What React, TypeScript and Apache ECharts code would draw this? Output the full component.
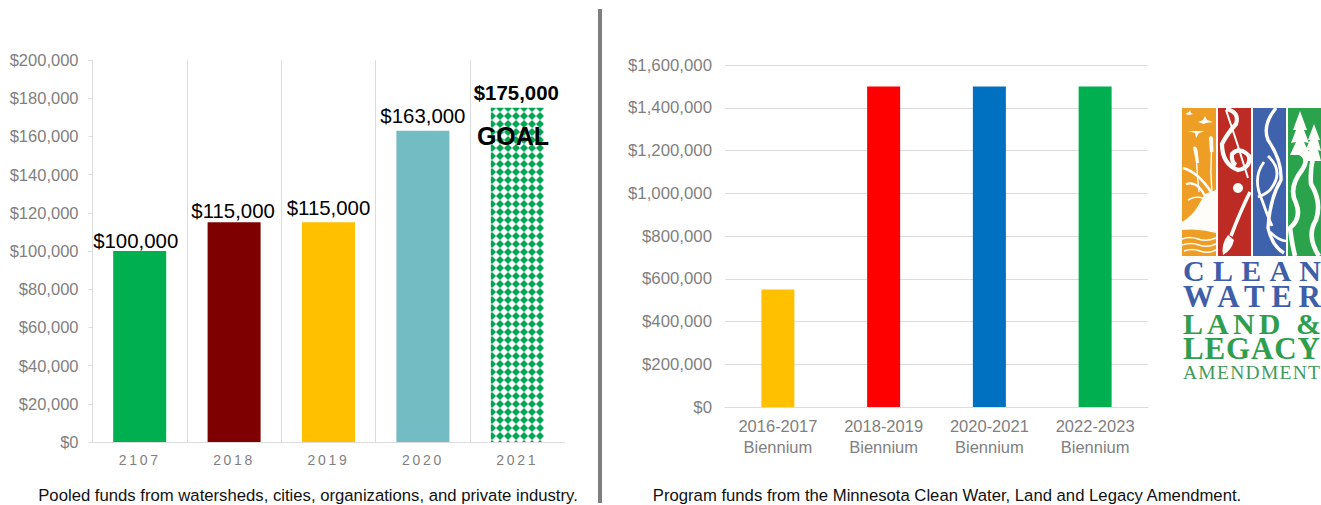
import React, { useEffect, useRef } from "react";
import * as echarts from "echarts";

// Pooled funds, by year
const pooledYears = ["2107", "2018", "2019", "2020", "2021"];
const pooledValues = [100000, 115000, 115000, 163000, 175000];
const pooledColors = ["#00b050", "#7f0000", "#ffc000", "#74bcc4"];
const pooledLabelOffsets = [[-4, 1], [-1, 0], [0, -3], [0, -4], [-1, -4]];
const goalColor = "#00a651";

// Program funds, by biennium
const bienniumYears = ["2016-2017", "2018-2019", "2020-2021", "2022-2023"];
const bienniumValues = [550000, 1500000, 1500000, 1500000];
const bienniumColors = ["#ffc000", "#ff0000", "#0070c0", "#00b050"];

const pooledCaption = "Pooled funds from watersheds, cities, organizations, and private industry.";
const programCaption = "Program funds from the Minnesota Clean Water, Land and Legacy Amendment.";
const goalText = "GOAL";

const logoWords = [
  { text: "CLEAN", y: 270.5, size: 30, weight: "bold", fill: "#3f5ea8", width: 138 },
  { text: "WATER", y: 296.5, size: 31, weight: "bold", fill: "#3f5ea8", width: 138 },
  { text: "LAND &", y: 323, size: 30, weight: "bold", fill: "#2f9e4f", width: 138 },
  { text: "LEGACY", y: 348, size: 31, weight: "bold", fill: "#2f9e4f", width: 137 },
  { text: "AMENDMENT", y: 372, size: 19.5, weight: "normal", fill: "#3f9a5b", width: 137 },
];

const logoPanels = [
  { x: 1182, width: 34, fill: "#ee9d25" },
  { x: 1218, width: 33, fill: "#bd2b25" },
  { x: 1253, width: 33, fill: "#3f62ac" },
  { x: 1288, width: 33, fill: "#2ba24c" },
];

// White artwork inside the four logo panels, in page pixels.
const logoFills = [
  "M1185 114 L1189 112 L1190 110 L1191 113 L1193 114 L1189 115 Z",
  "M1198 122 L1203 120 L1205 116 L1207 120 L1213 122 L1206 123 L1204 124 Z",
  "M1188 131 L1205 131 L1199 133 L1196 138 L1195 133 Z",
  "M1193 147 Q1196 145 1197.5 150 L1199 163 L1196 163 Z",
  "M1209 138 Q1211 134 1213 138 L1213.5 152 L1210 152 Z",
  "M1182 230 L1182 222 Q1192 216 1198 206 L1205 194 L1216 190 L1216 233 Q1199 228 1182 230 Z",
  "M1223 255 Q1221 244 1228 235 L1234 240 Q1232 250 1223 255 Z",
  "M1293 130 L1300 111 L1307 130 L1304 130 L1309 143 L1304 142 L1310 155 L1290 155 L1296 142 L1291 143 L1296 130 Z",
  "M1308 140 L1314 124 L1320 140 L1318 140 L1321 151 L1318 150 L1321 161 L1303 161 L1309 150 L1305 151 L1310 140 Z",
];
const logoStrokes = [
  { d: "M1196.5 160 Q1197 175 1199 192", width: 1.4 },
  { d: "M1211.5 150 Q1210 172 1212 194", width: 1.4 },
  { d: "M1183 168 Q1198 172 1211 192", width: 2.6 },
  { d: "M1186 184 Q1198 180 1206 198", width: 2.2 },
  { d: "M1188 200 Q1198 194 1206 200", width: 1.6 },
  { d: "M1182 239 Q1190 236 1198 239 T1216 238", width: 1.6 },
  { d: "M1182 245 Q1191 242 1199 245 T1216 244", width: 1.6 },
  { d: "M1184 251 Q1192 248 1200 251 T1216 250", width: 1.4 },
  { d: "M1226 109 Q1240 112 1236 124 Q1227 134 1222 144 Q1222 164 1238 170 Q1251 168 1249 156 Q1240 146 1232 154 Q1231 162 1236 165", width: 4.2 },
  { d: "M1226 110 Q1238 145 1248 178", width: 2 },
  { d: "M1250 192 Q1240 212 1231 236", width: 3.6 },
  { d: "M1276 108 Q1262 125 1268 140 Q1282 160 1281 180 Q1270 198 1268 228 Q1272 246 1284 253", width: 3.4 },
  { d: "M1264 162 Q1252 178 1262 200 Q1266 212 1272 226", width: 2.8 },
  { d: "M1268 156 Q1285 172 1270 190 Q1266 194 1258 197", width: 2.8 },
  { d: "M1270 232 Q1279 241 1286 241", width: 2.6 },
  { d: "M1300 153 Q1310 158 1302 170 Q1288 188 1296 203 Q1302 218 1290 228 Q1292 244 1295 256", width: 4.6 },
  { d: "M1313 158 Q1310 170 1311 184 Q1322 202 1316 220 Q1306 236 1319 256", width: 4.6 },
];

const WHITE_SHAPES = logoFills.map((d, i) => {
  const name = `logoFill${i}`;
  echarts.graphic.registerShape(name, echarts.graphic.extendPath(d, {}));
  return name;
});
const LINE_SHAPES = logoStrokes.map((s, i) => {
  const name = `logoLine${i}`;
  echarts.graphic.registerShape(name, echarts.graphic.extendPath(s.d, {}));
  return name;
});

const SANS = "'Liberation Sans', Arial, sans-serif";
const SERIF = "'Liberation Serif', 'Times New Roman', serif";
const GREY = "#7f7f7f";
const RULE = "#dcdcdc";
const ART = "#fffdf9";

const money = (v: number) => "$" + v.toLocaleString("en-US");

// Green diamonds on white, tiled over the goal bar.
function diamondTile() {
  const size = 8;
  const c = document.createElement("canvas");
  c.width = size;
  c.height = size;
  const g = c.getContext("2d")!;
  g.fillStyle = "#ffffff";
  g.fillRect(0, 0, size, size);
  g.fillStyle = goalColor;
  g.beginPath();
  g.moveTo(4, 0);
  g.lineTo(8, 4);
  g.lineTo(4, 8);
  g.lineTo(0, 4);
  g.closePath();
  g.fill();
  return c;
}

export default function App() {
  const ref = useRef<HTMLDivElement>(null);

  useEffect(() => {
    document.body.style.margin = "0";
    const chart = echarts.init(ref.current!, null, { renderer: "svg" });
    const tile = diamondTile();

    const pooledData = pooledValues.map((value, i) => {
      const isGoal = i === pooledValues.length - 1;
      return {
        value,
        itemStyle: {
          color: isGoal
            ? { image: tile, repeat: "repeat", scaleX: 1.05, scaleY: 1.05, x: 0.6, y: 6.4 }
            : pooledColors[i],
        },
        label: {
          fontWeight: isGoal ? "bold" : "normal",
          offset: pooledLabelOffsets[i],
        },
      };
    });

    const option: any = {
      animation: false,
      backgroundColor: "#ffffff",
      textStyle: { fontFamily: SANS },
      grid: [
        { left: 92.5, right: 1321 - 564.5, top: 60, bottom: 505 - 442 },
        { left: 725, right: 1321 - 1148, top: 65, bottom: 505 - 407 },
      ],
      xAxis: [
        {
          type: "category",
          gridIndex: 0,
          data: pooledYears,
          axisLine: { show: true, lineStyle: { color: RULE, width: 1 } },
          axisTick: { show: false },
          axisLabel: { color: GREY, fontSize: 14, margin: 11, interval: 0, fontFamily: SANS },
          splitLine: { show: true, showMaxLine: false, lineStyle: { color: RULE, width: 1 } },
        },
        {
          type: "category",
          gridIndex: 1,
          data: bienniumYears.map((y) => `${y}\nBiennium`),
          axisLine: { show: true, lineStyle: { color: RULE, width: 1 } },
          axisTick: { show: false },
          axisLabel: { color: GREY, fontSize: 16.5, lineHeight: 21, margin: 8, interval: 0, fontFamily: SANS },
          splitLine: { show: false },
        },
      ],
      yAxis: [
        {
          type: "value",
          gridIndex: 0,
          min: 0,
          max: 200000,
          interval: 20000,
          axisLine: { show: true, lineStyle: { color: RULE, width: 1 } },
          axisTick: { show: true, length: 4, lineStyle: { color: RULE } },
          axisLabel: { color: GREY, fontSize: 16.5, margin: 14, formatter: money, fontFamily: SANS },
          splitLine: { show: false },
        },
        {
          type: "value",
          gridIndex: 1,
          min: 0,
          max: 1600000,
          interval: 200000,
          axisLine: { show: false },
          axisTick: { show: false },
          axisLabel: { color: GREY, fontSize: 16.8, margin: 13, formatter: money, fontFamily: SANS },
          splitLine: { show: true, lineStyle: { color: RULE, width: 1 } },
        },
      ],
      series: [
        {
          type: "bar",
          xAxisIndex: 0,
          yAxisIndex: 0,
          barWidth: 53,
          data: pooledData,
          label: {
            show: true,
            position: "top",
            distance: 1,
            color: "#000000",
            fontSize: 20.4,
            fontFamily: SANS,
            formatter: (p: any) => money(p.value),
          },
        },
        {
          type: "bar",
          xAxisIndex: 1,
          yAxisIndex: 1,
          barWidth: 33,
          data: bienniumValues.map((value, i) => ({ value, itemStyle: { color: bienniumColors[i] } })),
        },
      ],
      graphic: [
        { type: "rect", silent: true, shape: { x: 598, y: 9, width: 4, height: 494 }, style: { fill: GREY } },
        {
          type: "text",
          silent: true,
          z: 100,
          x: 513,
          y: 136,
          style: { text: goalText, fill: "#000000", font: `bold 25px ${SANS}`, align: "center", verticalAlign: "middle" },
        },
        {
          type: "text",
          silent: true,
          x: 308,
          y: 495,
          style: { text: pooledCaption, fill: "#111111", font: `16.7px ${SANS}`, align: "center", verticalAlign: "middle" },
        },
        {
          type: "text",
          silent: true,
          x: 947,
          y: 495,
          style: { text: programCaption, fill: "#111111", font: `16.7px ${SANS}`, align: "center", verticalAlign: "middle" },
        },
        ...logoPanels.map((p) => ({
          type: "rect",
          silent: true,
          shape: { x: p.x, y: 108, width: p.width, height: 148 },
          style: { fill: p.fill },
        })),
        ...WHITE_SHAPES.map((name) => ({
          type: name,
          silent: true,
          x: 0,
          y: 0,
          style: { fill: ART },
        })),
        ...LINE_SHAPES.map((name, i) => ({
          type: name,
          silent: true,
          x: 0,
          y: 0,
          style: { fill: "none", stroke: ART, lineWidth: logoStrokes[i].width },
        })),
        { type: "circle", silent: true, shape: { cx: 1238, cy: 188, r: 5 }, style: { fill: ART } },
        ...logoWords.map((w) => ({
          type: "text",
          silent: true,
          x: 1183,
          y: w.y,
          style: {
            text: w.text,
            fill: w.fill,
            font: `${w.weight} ${w.size}px ${SERIF}`,
            align: "left",
            verticalAlign: "middle",
          },
        })),
      ],
    };

    chart.setOption(option);

    // ECharts has no tracking option, so the wide spacing goes straight on the drawn text nodes.
    const spaceTexts = () => {
      ref.current?.querySelectorAll("text").forEach((node) => {
        const t = node.textContent ?? "";
        if (pooledYears.includes(t)) node.setAttribute("letter-spacing", "2.7");
        const word = logoWords.find((w) => w.text === t);
        if (word) {
          node.setAttribute("textLength", String(word.width));
          node.setAttribute("lengthAdjust", "spacing");
        }
      });
    };
    spaceTexts();
    chart.on("finished", spaceTexts);

    return () => chart.dispose();
  }, []);

  return <div ref={ref} style={{ width: 1321, height: 505 }} />;
}
